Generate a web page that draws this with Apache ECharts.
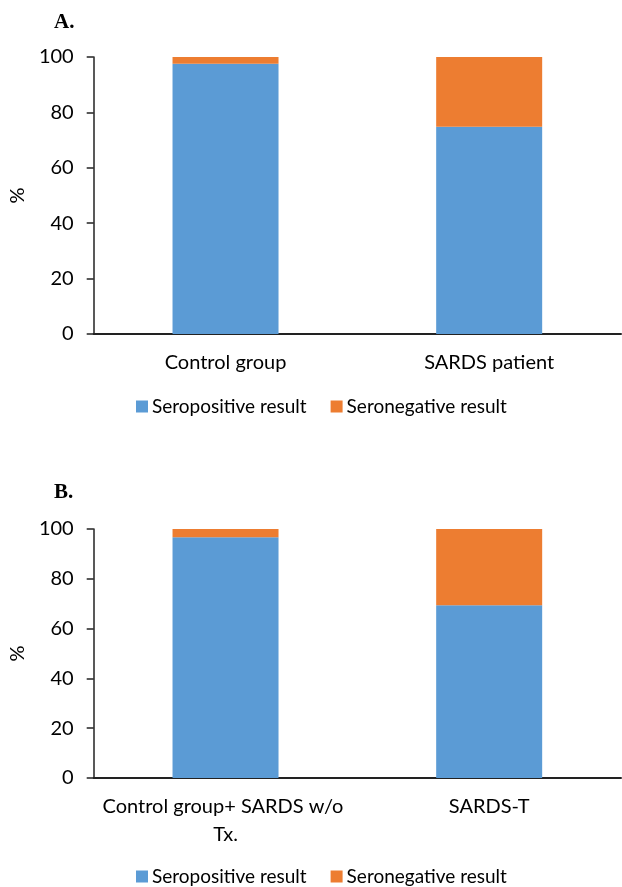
<!DOCTYPE html>
<html>
<head>
<meta charset="utf-8">
<script src="https://cdn.jsdelivr.net/npm/echarts@6/dist/echarts.min.js"></script>
<style>
  html, body { margin: 0; padding: 0; background: #fff; }
  #chart { width: 622px; height: 887px; }
</style>
</head>
<body>
<div id="chart"></div>
<script>
// panel A
const categoriesA = ['Control group', 'SARDS patient'];
const seropositiveA = [97.6, 74.8];
const seronegativeA = [2.4, 25.2];

// panel B
const categoriesB = ['Control group+ SARDS w/o Tx.', 'SARDS-T'];
const seropositiveB = [96.7, 69.4];
const seronegativeB = [3.3, 30.6];

const yTicks = { min: 0, max: 100, interval: 20 };
const legendNames = ['Seropositive result', 'Seronegative result'];

const BLUE = '#5B9BD5';
const ORANGE = '#ED7D31';
const FONT = 'Lato';

const chart = echarts.init(document.getElementById('chart'), null, { renderer: 'canvas' });

function yAxis(gridIndex) {
  return {
    gridIndex, type: 'value', ...yTicks,
    name: '%', nameLocation: 'middle', nameGap: 63,
    nameTextStyle: { color: '#000', fontSize: 20, fontFamily: FONT },
    axisLine: { show: true, lineStyle: { color: '#222', width: 1.5 } },
    axisTick: { show: true, length: 7, lineStyle: { color: '#222', width: 1.5 } },
    axisLabel: { color: '#000', fontSize: 20, fontFamily: FONT, margin: 20 },
    splitLine: { show: false }
  };
}

function xAxis(gridIndex, data) {
  return {
    gridIndex, type: 'category', data,
    axisLine: { lineStyle: { color: '#222', width: 2 } },
    axisTick: { show: false },
    axisLabel: {
      color: '#000', fontSize: 20, fontFamily: FONT, margin: 15, interval: 0,
      width: 255, overflow: 'break', lineHeight: 28
    }
  };
}

function bar(name, x, data, stack, color) {
  return {
    name, type: 'bar', stack, xAxisIndex: x, yAxisIndex: x, data,
    barWidth: 106, itemStyle: { color }, animation: false
  };
}

function legend(top) {
  return {
    data: legendNames, left: 131, top, itemWidth: 12, itemHeight: 12, itemGap: 24,
    icon: 'rect',
    textStyle: { color: '#000', fontSize: 19, fontFamily: FONT, padding: [0, 0, 0, -1] }
  };
}

chart.setOption({
  backgroundColor: '#fff',
  title: [
    { text: 'A.', left: 49, top: 7, textStyle: { fontFamily: 'Liberation Serif', fontSize: 21, fontWeight: 'bold', color: '#000' } },
    { text: 'B.', left: 49, top: 477, textStyle: { fontFamily: 'Liberation Serif', fontSize: 21, fontWeight: 'bold', color: '#000' } }
  ],
  legend: [legend(392), legend(862)],
  grid: [
    { left: 91, top: 57, width: 530, height: 277 },
    { left: 91, top: 529, width: 530, height: 249 }
  ],
  xAxis: [xAxis(0, categoriesA), xAxis(1, categoriesB)],
  yAxis: [yAxis(0), yAxis(1)],
  series: [
    bar(legendNames[0], 0, seropositiveA, 'a', BLUE),
    bar(legendNames[1], 0, seronegativeA, 'a', ORANGE),
    bar(legendNames[0], 1, seropositiveB, 'b', BLUE),
    bar(legendNames[1], 1, seronegativeB, 'b', ORANGE)
  ]
});
</script>
</body>
</html>
